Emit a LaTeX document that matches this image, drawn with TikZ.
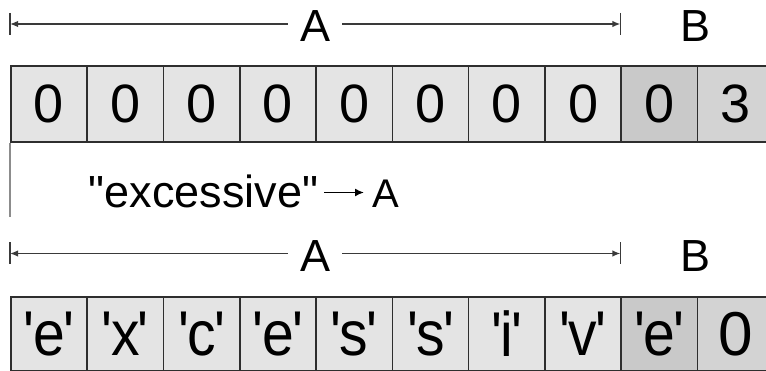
\documentclass[tikz,border=0pt]{standalone}
\usepackage{fontspec}
\usepackage{graphicx}
\setmainfont{Liberation Sans}[Ligatures=TeXOff]
\usetikzlibrary{arrows.meta}
\definecolor{cellA}{HTML}{E4E4E4}
\definecolor{cellB}{HTML}{C9C9C9}
\definecolor{cellC}{HTML}{D3D3D3}
\definecolor{edge}{HTML}{2E2E2E}
\definecolor{dimc}{HTML}{3A3A3A}
\newcommand{\sq}{\symbol{39}}
\newcommand{\qc}[1]{\scalebox{0.92}[1.02]{\sq\kern-0.03em#1\kern-0.03em\sq}}
\begin{document}
\begin{tikzpicture}[x=1pt,y=-1pt,
  cellbox/.style={draw=edge,line width=1.6pt,minimum width=76.3pt,inner sep=0pt,anchor=north west},
  toprow/.style={cellbox,minimum height=76pt,font=\fontsize{54}{60}\selectfont},
  botrow/.style={cellbox,minimum height=74pt,font=\fontsize{62}{70}\selectfont},
  dimlab/.style={inner xsep=12pt,inner ysep=0pt,font=\fontsize{45}{50}\selectfont},
  dimline/.style={draw=dimc,line width=1.5pt,-{Latex[length=8pt,width=6.5pt]}},
  dimtick/.style={draw=dimc,line width=1.5pt},
  arr/.style={draw=black,line width=1.6pt,-{Latex[length=9pt,width=8pt]}}]
\useasboundingbox (0,0) rectangle (766,371);
\clip (0,0) rectangle (766,371);

% ---- top dimension line
\coordinate (l1) at (10,24);
\coordinate (r1) at (620.4,24);
\node[dimlab] (a1) at (315.2,26) {A};
\node[dimlab] (b1) at (695.5,26) {B};
\draw[dimline] (a1.west |- l1) -- (l1);
\draw[dimline] (a1.east |- r1) -- (r1);
\draw[dimtick] ([yshift=11pt]l1) -- ([yshift=-11pt]l1);
\draw[dimtick] ([yshift=11pt]r1) -- ([yshift=-11pt]r1);

% ---- top row of cells
\foreach \i/\t/\c in {1/0/cellA,2/0/cellA,3/0/cellA,4/0/cellA,5/0/cellA,6/0/cellA,7/0/cellA,8/0/cellA,9/0/cellB,10/3/cellC}
  \node[toprow,fill=\c] (t\i) at ({10+76.3*(\i-1)},65) {\t};

% ---- faint vertical line under the first row
\draw[draw=black!45,line width=1.2pt] (t1.south west) -- ++(0,74);

% ---- "excessive" -> A
\node[anchor=base west,inner sep=0pt,font=\fontsize{45}{50}\selectfont] (ex) at (88.5,208) {\symbol{34}excessive\symbol{34}};
\node[anchor=base west,inner sep=0pt,font=\fontsize{40}{45}\selectfont] (a3) at (372,207.5) {A};
\draw[arr] ([shift={(6,-15.5)}]ex.base east) -- ([shift={(-8,-15)}]a3.base west);

% ---- bottom dimension line
\coordinate (l2) at (10,253.5);
\coordinate (r2) at (620.4,253.5);
\node[dimlab] (a2) at (315.2,256) {A};
\node[dimlab] (b2) at (695.5,256) {B};
\draw[dimline] (a2.west |- l2) -- (l2);
\draw[dimline] (a2.east |- r2) -- (r2);
\draw[dimtick] ([yshift=11pt]l2) -- ([yshift=-11pt]l2);
\draw[dimtick] ([yshift=11pt]r2) -- ([yshift=-11pt]r2);

% ---- bottom row of cells
\foreach \i/\t/\c in {1/e/cellA,2/x/cellA,3/c/cellA,4/e/cellA,5/s/cellA,6/s/cellA,7/i/cellA,8/v/cellA,9/e/cellB}
  \node[botrow,fill=\c] (u\i) at ({10+76.3*(\i-1)},296) {\qc{\t}};
\node[botrow,fill=cellC] (u10) at ({10+76.3*9},296) {0};
\end{tikzpicture}
\end{document}
